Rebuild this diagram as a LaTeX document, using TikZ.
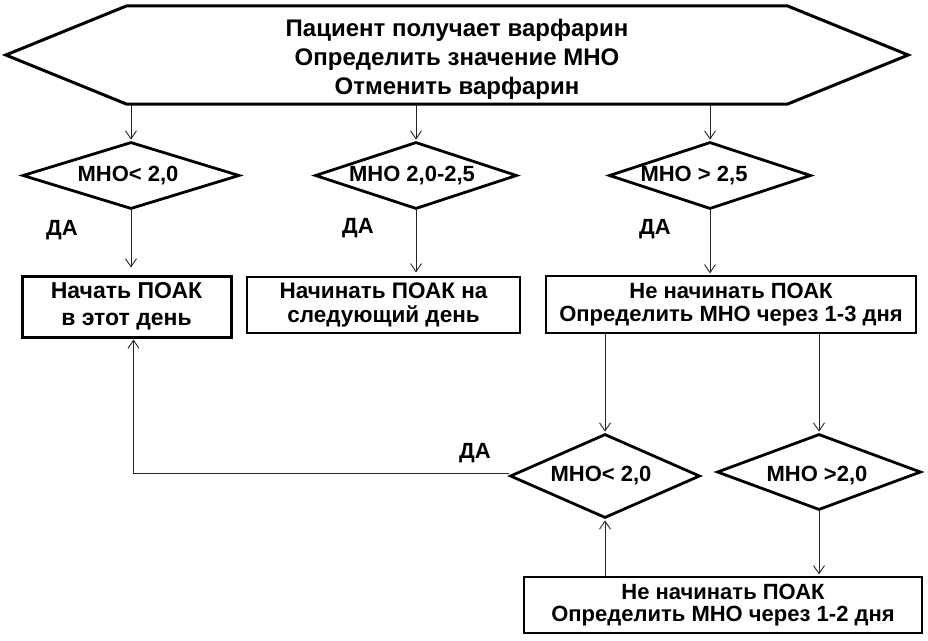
\documentclass[tikz,border=0pt]{standalone}
\usepackage{fontspec}
\setmainfont{Liberation Sans}
\usetikzlibrary{shapes.geometric,arrows.meta}
\begin{document}
\begin{tikzpicture}[x=1pt,y=-1pt,
  every node/.style={font=\bfseries\fontsize{22}{26}\selectfont},
  dia/.style={diamond,draw,line width=2.8pt,inner sep=0pt},
  thinbox/.style={rectangle,draw,line width=1.3pt,align=center,inner sep=0pt},
  thickbox/.style={rectangle,draw,line width=3pt,align=center,inner sep=0pt},
  conn/.style={line width=0.9pt,draw=black!85,-{Straight Barb[length=8pt,width=11pt]}},
  lbl/.style={inner sep=0pt}]
\useasboundingbox[fill=white] (0,0) rectangle (928,640);

% top hexagon
\node[rectangle,minimum width=660pt,minimum height=98pt,inner sep=0pt,
      label={[lbl,align=center,yshift=-4pt,font=\bfseries\fontsize{24}{29}\selectfont]center:Пациент получает варфарин\\Определить значение МНО\\Отменить варфарин}]
      (top) at (457,55) {};
\draw[line width=3pt] (top.north west) -- (top.north east) -- ([xshift=121pt]top.east)
  -- (top.south east) -- (top.south west) -- ([xshift=-121pt]top.west) -- cycle;

% decisions
\node[dia,minimum width=217pt,minimum height=67pt,label={[lbl,xshift=-3pt]center:МНО< 2,0}] (d1) at (131,175.5) {};
\node[dia,minimum width=202pt,minimum height=67pt,label={[lbl,xshift=-4pt]center:МНО 2,0-2,5}] (d2) at (416,175.5) {};
\node[dia,minimum width=202pt,minimum height=67pt,label={[lbl,xshift=-16pt]center:МНО > 2,5}] (d3) at (710,175.5) {};
\node[dia,minimum width=190pt,minimum height=84pt,label={[lbl,xshift=-4pt]center:МНО< 2,0}] (d4) at (605,476) {};
\node[dia,minimum width=204pt,minimum height=76pt,label={[lbl,xshift=-2pt,yshift=-4pt]center:МНО >2,0}] (d5) at (819,472) {};

% boxes
\node[thickbox,minimum width=209pt,minimum height=61pt,font=\bfseries\fontsize{23}{27}\selectfont] (b1) at (126.5,306.5) {Начать ПОАК\\в этот день};
\node[thinbox,minimum width=273pt,minimum height=56pt,font=\bfseries\fontsize{22.5}{24}\selectfont] (b2) at (383.5,305) {Начинать ПОАК на\\следующий день};
\node[thinbox,minimum width=370pt,minimum height=57pt,font=\bfseries\fontsize{22}{23}\selectfont] (b3) at (731,304.5) {Не начинать ПОАК\\Определить МНО через 1-3 дня};
\node[thinbox,minimum width=398pt,minimum height=56pt,font=\bfseries\fontsize{22}{22}\selectfont] (b4) at (723,605) {Не начинать ПОАК\\Определить МНО через 1-2 дня};

% labels
\node[lbl] (y1) at (62,230) {ДА};
\node[lbl] (y2) at (358,228) {ДА};
\node[lbl] (y3) at (655,229) {ДА};
\node[lbl] (y4) at (475,453) {ДА};

% connectors
\draw[conn,shorten >=1pt] (top.south -| d1.north) -- (d1.north);
\draw[conn,shorten >=1pt] (top.south -| d2.north) -- (d2.north);
\draw[conn,shorten >=1pt] (top.south -| d3.north) -- (d3.north);
\draw[conn,shorten >=7pt] (d1.south) -- (d1.south |- b1.north);
\draw[conn,shorten >=4pt] (d2.south) -- (d2.south |- b2.north);
\draw[conn,shorten >=2pt] (d3.south) -- (d3.south |- b3.north);
\draw[conn,shorten >=1pt] (b3.south -| d4.north) -- (d4.north);
\draw[conn,shorten >=1pt] (b3.south -| d5.north) -- (d5.north);
\draw[conn,shorten >=2pt] (d5.south) -- (d5.south |- b4.north);
\draw[conn,shorten >=1pt] (b4.north -| d4.south) -- (d4.south);
\draw[conn,shorten >=1pt] ([yshift=3pt]d4.west) -| ([xshift=7pt]b1.south);
\end{tikzpicture}
\end{document}
